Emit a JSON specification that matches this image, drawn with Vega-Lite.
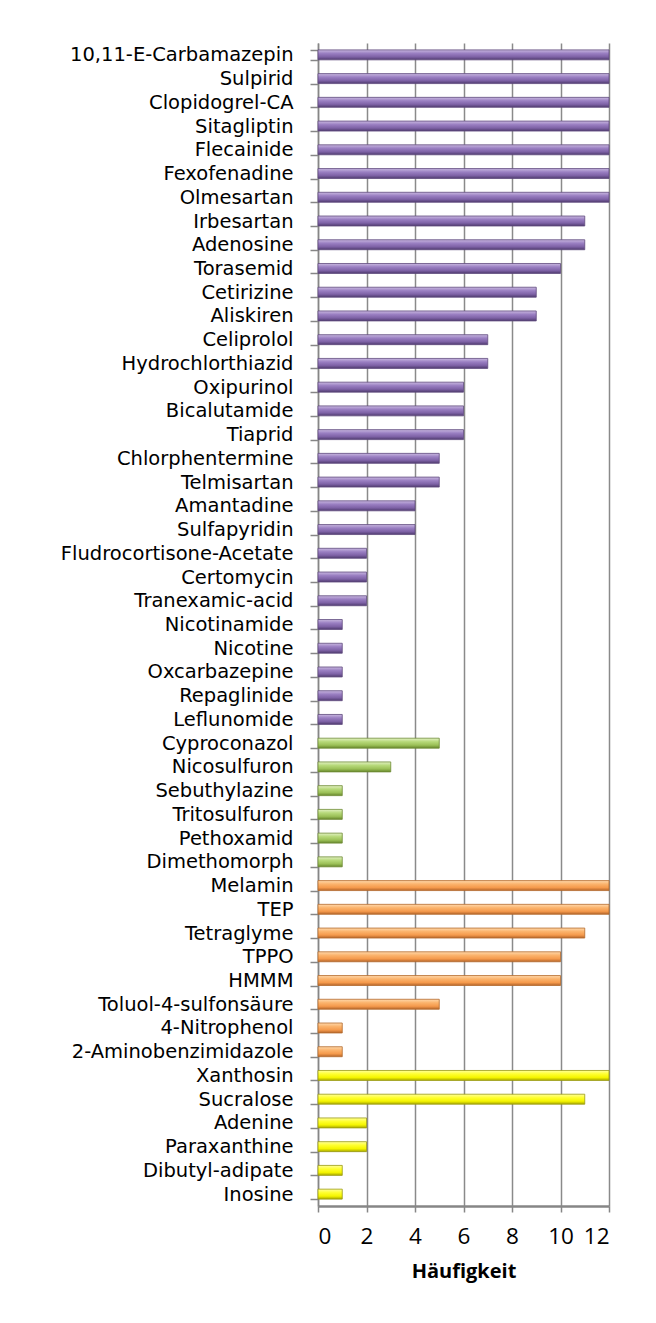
{
  "$schema": "https://vega.github.io/schema/vega-lite/v6.json",
  "autosize": "none",
  "width": 291,
  "height": 1163,
  "padding": {"left": 318, "top": 43, "right": 47, "bottom": 117},
  "background": "white",
  "config": {"view": {"stroke": null}, "font": "DejaVu Sans"},
  "data": {"values": [
    {"name": "10,11-E-Carbamazepin", "value": 12, "group": "P"},
    {"name": "Sulpirid", "value": 12, "group": "P"},
    {"name": "Clopidogrel-CA", "value": 12, "group": "P"},
    {"name": "Sitagliptin", "value": 12, "group": "P"},
    {"name": "Flecainide", "value": 12, "group": "P"},
    {"name": "Fexofenadine", "value": 12, "group": "P"},
    {"name": "Olmesartan", "value": 12, "group": "P"},
    {"name": "Irbesartan", "value": 11, "group": "P"},
    {"name": "Adenosine", "value": 11, "group": "P"},
    {"name": "Torasemid", "value": 10, "group": "P"},
    {"name": "Cetirizine", "value": 9, "group": "P"},
    {"name": "Aliskiren", "value": 9, "group": "P"},
    {"name": "Celiprolol", "value": 7, "group": "P"},
    {"name": "Hydrochlorthiazid", "value": 7, "group": "P"},
    {"name": "Oxipurinol", "value": 6, "group": "P"},
    {"name": "Bicalutamide", "value": 6, "group": "P"},
    {"name": "Tiaprid", "value": 6, "group": "P"},
    {"name": "Chlorphentermine", "value": 5, "group": "P"},
    {"name": "Telmisartan", "value": 5, "group": "P"},
    {"name": "Amantadine", "value": 4, "group": "P"},
    {"name": "Sulfapyridin", "value": 4, "group": "P"},
    {"name": "Fludrocortisone-Acetate", "value": 2, "group": "P"},
    {"name": "Certomycin", "value": 2, "group": "P"},
    {"name": "Tranexamic-acid", "value": 2, "group": "P"},
    {"name": "Nicotinamide", "value": 1, "group": "P"},
    {"name": "Nicotine", "value": 1, "group": "P"},
    {"name": "Oxcarbazepine", "value": 1, "group": "P"},
    {"name": "Repaglinide", "value": 1, "group": "P"},
    {"name": "Leflunomide", "value": 1, "group": "P"},
    {"name": "Cyproconazol", "value": 5, "group": "G"},
    {"name": "Nicosulfuron", "value": 3, "group": "G"},
    {"name": "Sebuthylazine", "value": 1, "group": "G"},
    {"name": "Tritosulfuron", "value": 1, "group": "G"},
    {"name": "Pethoxamid", "value": 1, "group": "G"},
    {"name": "Dimethomorph", "value": 1, "group": "G"},
    {"name": "Melamin", "value": 12, "group": "O"},
    {"name": "TEP", "value": 12, "group": "O"},
    {"name": "Tetraglyme", "value": 11, "group": "O"},
    {"name": "TPPO", "value": 10, "group": "O"},
    {"name": "HMMM", "value": 10, "group": "O"},
    {"name": "Toluol-4-sulfonsäure", "value": 5, "group": "O"},
    {"name": "4-Nitrophenol", "value": 1, "group": "O"},
    {"name": "2-Aminobenzimidazole", "value": 1, "group": "O"},
    {"name": "Xanthosin", "value": 12, "group": "Y"},
    {"name": "Sucralose", "value": 11, "group": "Y"},
    {"name": "Adenine", "value": 2, "group": "Y"},
    {"name": "Paraxanthine", "value": 2, "group": "Y"},
    {"name": "Dibutyl-adipate", "value": 1, "group": "Y"},
    {"name": "Inosine", "value": 1, "group": "Y"}
  ]},
  "encoding": {
    "y": {
      "field": "name", "type": "nominal", "sort": null,
      "scale": {"paddingInner": 0.58, "paddingOuter": 0.29},
      "axis": {
        "title": null, "tickBand": "extent", "grid": false,
        "labelFontSize": 19.5, "labelColor": "#000000", "labelPadding": 17,
        "tickSize": 8, "tickColor": "#868686", "tickWidth": 1.5,
        "domainColor": "#868686", "domainWidth": 1.5, "labelLimit": 320
      }
    },
    "x": {
      "field": "value", "type": "quantitative",
      "scale": {"domain": [0, 12], "nice": false},
      "axis": {
        "title": "Häufigkeit", "values": [0, 2, 4, 6, 8, 10, 12],
        "grid": true, "gridColor": "#8a8a8a", "gridWidth": 1.5,
        "domainColor": "#868686", "domainWidth": 2.5,
        "tickColor": "#868686", "tickSize": 6, "tickWidth": 1.5,
        "labelFontSize": 22.5, "labelFont": "Open Sans", "labelColor": "#000000", "labelPadding": 13,
        "titleFontSize": 20, "titleFont": "Open Sans", "titleFontWeight": "bold", "titleColor": "#000000", "titlePadding": 14
      }
    }
  },
  "layer": [
    {
      "transform": [{"filter": "datum.group == 'P'"}],
      "mark": {"type": "bar", "stroke": "#5f4a7d", "strokeWidth": 0.8, "color": {"gradient": "linear", "x1": 0, "y1": 0, "x2": 0, "y2": 1, "stops": [{"offset": 0, "color": "#c9b8e0"}, {"offset": 0.35, "color": "#9a7fc2"}, {"offset": 0.7, "color": "#7e62a6"}, {"offset": 1, "color": "#4f3b6e"}]}}
    },
    {
      "transform": [{"filter": "datum.group == 'G'"}],
      "mark": {"type": "bar", "stroke": "#6f8c35", "strokeWidth": 0.8, "color": {"gradient": "linear", "x1": 0, "y1": 0, "x2": 0, "y2": 1, "stops": [{"offset": 0, "color": "#e3f1c4"}, {"offset": 0.35, "color": "#b7d97a"}, {"offset": 0.7, "color": "#9bc057"}, {"offset": 1, "color": "#66862c"}]}}
    },
    {
      "transform": [{"filter": "datum.group == 'O'"}],
      "mark": {"type": "bar", "stroke": "#b46a2c", "strokeWidth": 0.8, "color": {"gradient": "linear", "x1": 0, "y1": 0, "x2": 0, "y2": 1, "stops": [{"offset": 0, "color": "#ffd9ac"}, {"offset": 0.35, "color": "#fbb36c"}, {"offset": 0.7, "color": "#f59a4c"}, {"offset": 1, "color": "#b4652a"}]}}
    },
    {
      "transform": [{"filter": "datum.group == 'Y'"}],
      "mark": {"type": "bar", "stroke": "#9a9a10", "strokeWidth": 0.8, "color": {"gradient": "linear", "x1": 0, "y1": 0, "x2": 0, "y2": 1, "stops": [{"offset": 0, "color": "#ffff9a"}, {"offset": 0.35, "color": "#ffff30"}, {"offset": 0.7, "color": "#f5f500"}, {"offset": 1, "color": "#a8a800"}]}}
    }
  ]
}
